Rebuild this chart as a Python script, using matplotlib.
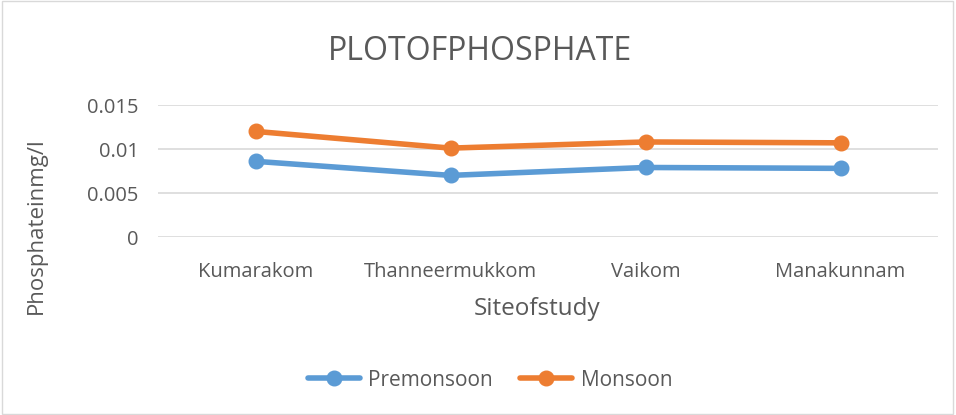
import matplotlib
matplotlib.use("Agg")
import matplotlib.pyplot as plt
from matplotlib.patches import Rectangle

sites = ["Kumarakom", "Thanneermukkom", "Vaikom", "Manakunnam"]
premonsoon = [0.0086, 0.0070, 0.0079, 0.0078]
monsoon = [0.0120, 0.0101, 0.0108, 0.0107]
yticks = [0, 0.005, 0.01, 0.015]
ytick_labels = ["0", "0.005", "0.01", "0.015"]

plt.rcParams['font.family'] = ['Open Sans', 'DejaVu Sans']
txt = '#595959'

fig = plt.figure(figsize=(9.56, 4.15), dpi=100)
fig.patches.append(Rectangle((0.002, 0.003), 0.995, 0.994, transform=fig.transFigure,
                             fill=False, edgecolor='#D9D9D9', linewidth=1))
ax = fig.add_axes([158/956, 1-237/415, 780/956, 132/415])

x = list(range(len(sites)))
ax.plot(x, premonsoon, color='#5B9BD5', lw=4, marker='o', ms=10.5, label='Premonsoon',
        solid_capstyle='round', zorder=3)
ax.plot(x, monsoon, color='#ED7D31', lw=4, marker='o', ms=10.5, label='Monsoon',
        solid_capstyle='round', zorder=3)

ax.set_xlim(-0.5, len(sites) - 0.5)
ax.set_ylim(0, 0.015)
ax.set_yticks(yticks)
ax.set_yticklabels(ytick_labels)
ax.set_xticks(x)
ax.set_xticklabels(sites)
ax.tick_params(axis='both', length=0, labelsize=14.5, colors=txt)
ax.tick_params(axis='x', pad=18)
ax.tick_params(axis='y', pad=14)
ax.grid(axis='y', color='#D9D9D9', lw=1.2)
ax.set_axisbelow(True)
for s in ax.spines.values():
    s.set_visible(False)

fig.text(480/956, 1-52/415, "PLOTOFPHOSPHATE", ha='center', va='center', fontsize=23, color=txt)
fig.text(36/956, 1-226/415, "Phosphateinmg/l", ha='center', va='center', rotation=90,
         fontsize=16, color=txt)
fig.text(537/956, 1-309/415, "Siteofstudy", ha='center', va='center', fontsize=17.5, color=txt)

leg = fig.legend(loc='center', bbox_to_anchor=(490/956, 1-380/415), ncol=2, frameon=False,
                 fontsize=15, handlelength=2.5, columnspacing=1.3, handletextpad=0.4)
for t in leg.get_texts():
    t.set_color(txt)

fig.savefig("out.png", dpi=100)
